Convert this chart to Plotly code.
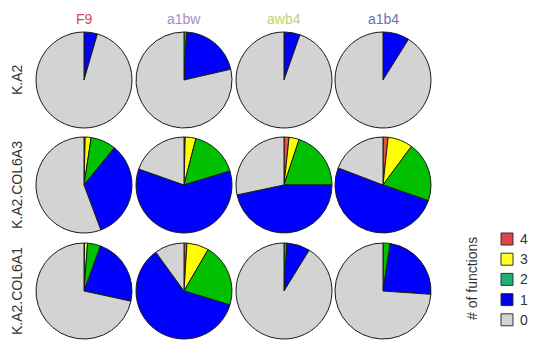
import plotly.graph_objects as go

# Share of genes by number of functions (4, 3, 2, 1, 0), per construct and background
levels = ["4", "3", "2", "1", "0"]
constructs = ["F9", "a1bw", "awb4", "a1b4"]
backgrounds = ["K.A2", "K.A2.COL6A3", "K.A2.COL6A1"]

ka2 = [
    [0.000, 0.000, 0.000, 0.045, 0.955],
    [0.000, 0.000, 0.009, 0.205, 0.786],
    [0.000, 0.000, 0.000, 0.054, 0.946],
    [0.000, 0.000, 0.000, 0.089, 0.911],
]
ka2_col6a3 = [
    [0.004, 0.020, 0.085, 0.334, 0.557],
    [0.004, 0.036, 0.163, 0.601, 0.196],
    [0.017, 0.034, 0.199, 0.467, 0.283],
    [0.017, 0.084, 0.202, 0.505, 0.192],
]
ka2_col6a1 = [
    [0.002, 0.010, 0.044, 0.228, 0.716],
    [0.010, 0.074, 0.213, 0.603, 0.100],
    [0.000, 0.000, 0.010, 0.078, 0.912],
    [0.000, 0.000, 0.024, 0.237, 0.739],
]
grid_values = [ka2, ka2_col6a3, ka2_col6a1]

slice_colors = ["#E8504A", "#FFFF00", "#00C000", "#0000FF", "#D3D3D3"]
legend_colors = ["#E04545", "#FFFF22", "#22B070", "#0000E6", "#D3D3D3"]
title_colors = ["#D24850", "#A88BC8", "#C4D65E", "#6C6CB4"]

W, H = 536, 346
col_cx = [84, 184, 284, 383]
row_cy = [80, 185, 291]
R = 48

fig = go.Figure()
for r, row in enumerate(grid_values):
    for c, vals in enumerate(row):
        cx, cy = col_cx[c], row_cy[r]
        fig.add_trace(go.Pie(
            labels=levels,
            values=vals,
            sort=False,
            direction="clockwise",
            rotation=0,
            textinfo="none",
            hoverinfo="label+percent",
            showlegend=False,
            marker=dict(colors=slice_colors, line=dict(color="#1a1a1a", width=1)),
            domain=dict(x=[(cx - R) / W, (cx + R) / W],
                        y=[(H - cy - R) / H, (H - cy + R) / H]),
        ))

annotations = []
for c, name in enumerate(constructs):
    annotations.append(dict(x=col_cx[c] / W, y=(H - 19) / H, xref="paper", yref="paper",
                            text=name, showarrow=False, xanchor="center", yanchor="middle",
                            font=dict(size=14, color=title_colors[c], family="Liberation Sans, Arial")))
for r, name in enumerate(backgrounds):
    annotations.append(dict(x=17 / W, y=(H - row_cy[r]) / H, xref="paper", yref="paper",
                            text=name, showarrow=False, textangle=-90, xanchor="center",
                            yanchor="middle",
                            font=dict(size=14, color="#333333", family="Liberation Sans, Arial")))

# legend: rotated title, keys and labels
annotations.append(dict(x=472 / W, y=(H - 279) / H, xref="paper", yref="paper",
                        text="# of functions", showarrow=False, textangle=-90,
                        xanchor="center", yanchor="middle",
                        font=dict(size=14, color="#333333", family="Liberation Sans, Arial")))
shapes = []
key_y0, key_step, key = 239, 20.2, 12
for i, (lab, col) in enumerate(zip(levels, legend_colors)):
    ky = key_y0 + i * key_step
    shapes.append(dict(type="rect", xref="paper", yref="paper",
                       x0=501 / W, x1=(501 + key) / W,
                       y0=(H - ky - key / 2) / H, y1=(H - ky + key / 2) / H,
                       fillcolor=col, line=dict(color="#333333", width=1)))
    annotations.append(dict(x=518 / W, y=(H - ky) / H, xref="paper", yref="paper",
                            text=lab, showarrow=False, xanchor="left", yanchor="middle",
                            font=dict(size=14, color="#333333", family="Liberation Sans, Arial")))

fig.update_layout(
    width=W, height=H,
    margin=dict(l=0, r=0, t=0, b=0),
    paper_bgcolor="white", plot_bgcolor="white",
    annotations=annotations, shapes=shapes,
)
fig.write_html("out.html")
